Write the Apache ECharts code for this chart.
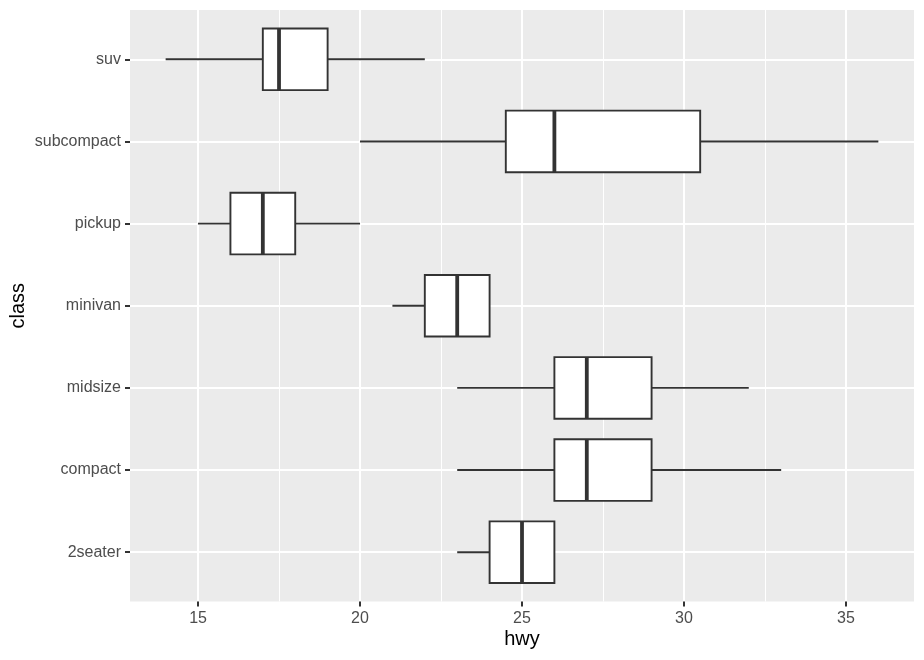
<!DOCTYPE html>
<html>
<head>
<meta charset="utf-8">
<script src="https://cdn.jsdelivr.net/npm/echarts@6/dist/echarts.min.js"></script>
<style>
  html, body { margin: 0; padding: 0; background: #fff; }
  #chart { width: 924px; height: 660px; }
</style>
</head>
<body>
<div id="chart"></div>
<script>
// hwy by class (boxplot, horizontal)
var categories = ['2seater', 'compact', 'midsize', 'minivan', 'pickup', 'subcompact', 'suv'];
var lowWhisker = [23, 23, 23, 21, 15, 20, 14];
var q1Values = [24, 26, 26, 22, 16, 24.5, 17];
var medianValues = [25, 27, 27, 23, 17, 26, 17.5];
var q3Values = [26, 29, 29, 24, 18, 30.5, 19];
var highWhisker = [26, 33, 32, 24, 20, 36, 22];
var xTicks = [15, 20, 25, 30, 35];
var xMinorTicks = [17.5, 22.5, 27.5, 32.5];

var yPositions = categories.map(function (c, i) { return i + 1; });

var boxData = [];
for (var i = 0; i < categories.length; i++) {
    boxData.push([yPositions[i], lowWhisker[i], q1Values[i], medianValues[i], q3Values[i], highWhisker[i]]);
}

var lineColor = '#333333';
var labelFont = 'Liberation Sans, Arial, sans-serif';

function renderBox(params, api) {
    var y = api.value(0);
    var low = api.coord([api.value(1), y]);
    var q1 = api.coord([api.value(2), y]);
    var med = api.coord([api.value(3), y]);
    var q3 = api.coord([api.value(4), y]);
    var high = api.coord([api.value(5), y]);
    var half = api.size([0, 1])[1] * 0.75 / 2;
    var cy = low[1];
    var lineStyle = { stroke: lineColor, lineWidth: 1.9, fill: null };
    return {
        type: 'group',
        children: [
            { type: 'line', shape: { x1: low[0], y1: cy, x2: q1[0], y2: cy }, style: lineStyle },
            { type: 'line', shape: { x1: q3[0], y1: cy, x2: high[0], y2: cy }, style: lineStyle },
            {
                type: 'rect',
                shape: { x: q1[0], y: cy - half, width: q3[0] - q1[0], height: half * 2 },
                style: { fill: '#ffffff', stroke: lineColor, lineWidth: 1.9 }
            },
            {
                type: 'line',
                shape: { x1: med[0], y1: cy - half, x2: med[0], y2: cy + half },
                style: { stroke: lineColor, lineWidth: 3.8 }
            }
        ]
    };
}

var chart = echarts.init(document.getElementById('chart'));
chart.setOption({
    animation: false,
    grid: {
        left: 130, right: 10, top: 10, bottom: 58.5,
        outerBoundsMode: 'none',
        containLabel: false,
        show: true, backgroundColor: '#EBEBEB', borderWidth: 0
    },
    xAxis: [{
        type: 'value',
        min: 12.9,
        max: 37.1,
        name: 'hwy',
        nameLocation: 'middle',
        nameGap: 28,
        nameMoveOverlap: false,
        nameTextStyle: { color: '#000000', fontSize: 20, fontFamily: labelFont },
        axisLine: { show: false },
        axisTick: { show: true, length: 5, customValues: xTicks, lineStyle: { color: lineColor, width: 2 } },
        axisLabel: { customValues: xTicks, margin: 9, color: '#4D4D4D', fontSize: 16, fontFamily: labelFont },
        splitLine: { show: true, lineStyle: { color: '#ffffff', width: 2 } }
    }, {
        type: 'value',
        min: 12.9,
        max: 37.1,
        axisLine: { show: false },
        axisTick: { show: false, customValues: xMinorTicks },
        axisLabel: { show: false, customValues: xMinorTicks },
        splitLine: { show: true, lineStyle: { color: '#ffffff', width: 1 } }
    }],
    yAxis: {
        type: 'value',
        min: 0.4,
        max: 7.6,
        name: 'class',
        nameLocation: 'middle',
        nameGap: 102,
        nameMoveOverlap: false,
        nameTextStyle: { color: '#000000', fontSize: 20, fontFamily: labelFont },
        axisLine: { show: false },
        axisTick: { show: true, length: 5, customValues: yPositions, lineStyle: { color: lineColor, width: 2 } },
        axisLabel: {
            customValues: yPositions,
            margin: 9,
            color: '#4D4D4D', fontSize: 16, fontFamily: labelFont,
            formatter: function (v) { return categories[Math.round(v) - 1]; }
        },
        splitLine: { show: true, lineStyle: { color: '#ffffff', width: 2 } }
    },
    series: [{
        type: 'custom',
        xAxisIndex: 0,
        renderItem: renderBox,
        encode: { x: [1, 2, 3, 4, 5], y: 0 },
        data: boxData,
        z: 10
    }]
});
</script>
</body>
</html>
